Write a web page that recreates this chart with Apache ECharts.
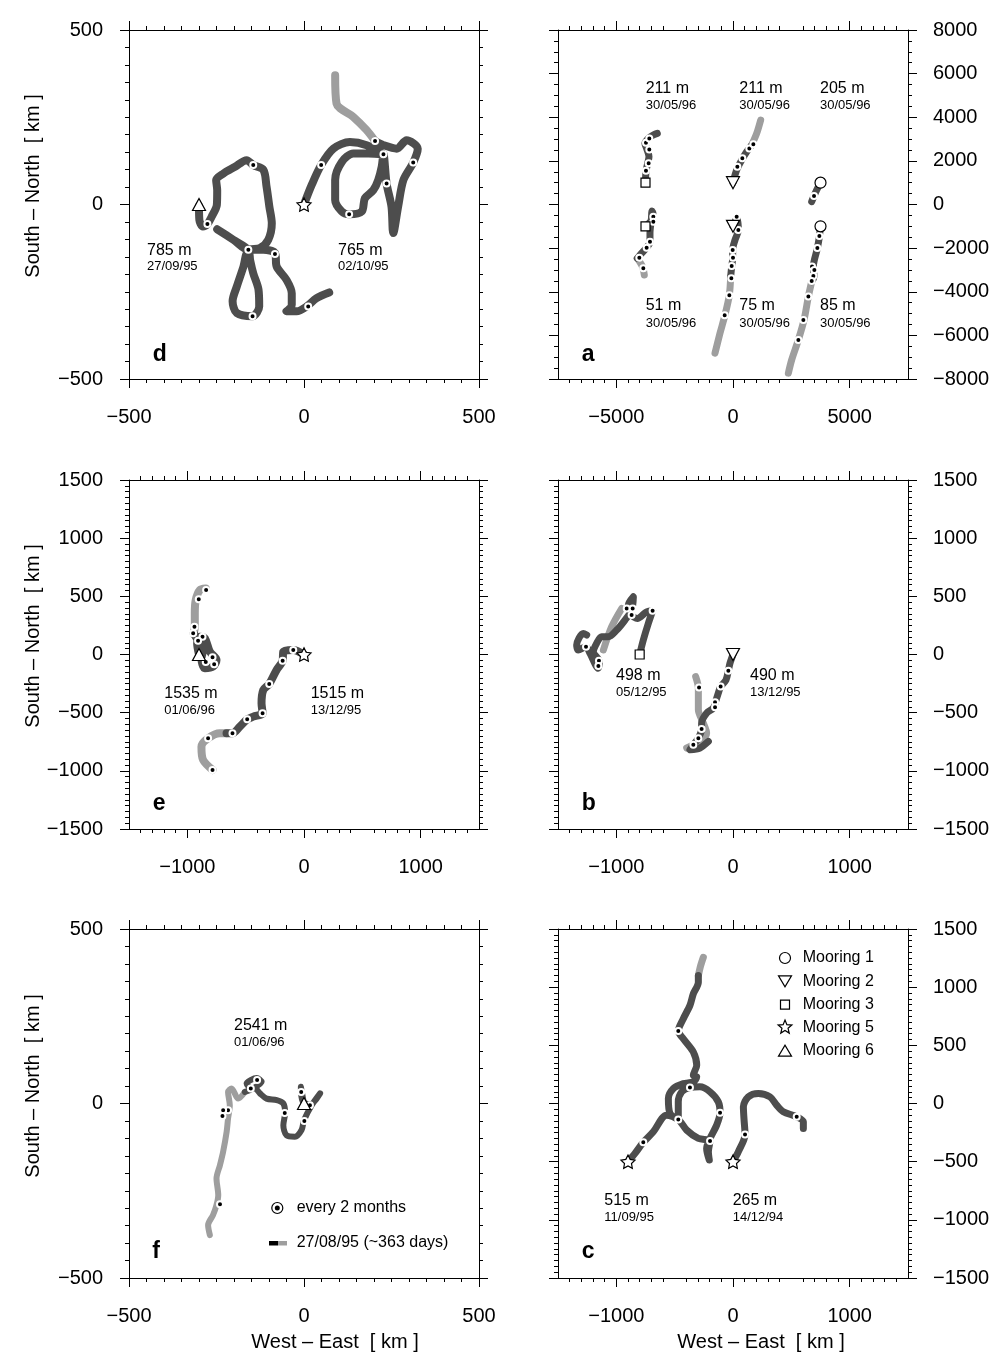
<!DOCTYPE html>
<html><head><meta charset="utf-8">
<script src="https://cdn.jsdelivr.net/npm/echarts@6/dist/echarts.min.js"></script>
<style>html,body{margin:0;padding:0;background:#fff}#c{width:996px;height:1355px}</style>
</head><body><div id="c"></div>
<script>
// ---------- DATA (km, West-East / South-North) ----------
// panel d
const d785Dark = [[-300,-5],[-299,-44],[-289,-63],[-276,-56],[-264,-35],[-249,-1],[-248,41],[-251,70],[-230,89],[-197,108],[-164,127],[-145,113],[-116,99],[-107,51],[-99,-6],[-92,-54],[-102,-101],[-126,-125],[-159,-130],[-173,-178],[-192,-235],[-204,-277],[-192,-311],[-147,-320],[-128,-292],[-130,-244],[-145,-197],[-154,-159],[-159,-130],[-202,-101],[-248,-71],[-202,-101],[-159,-130],[-116,-130],[-83,-139],[-78,-178],[-50,-216],[-35,-254],[-35,-287],[-50,-306],[-21,-306],[8,-292],[36,-268],[72,-252]];
const d785Dots = [[-276,-56],[-145,113],[-159,-130],[-147,-320],[-83,-142],[12,-292]];
const d765Dark = [[0,0],[22,56],[49,113],[84,160],[131,179],[179,170],[227,144],[184,146],[141,146],[108,122],[89,70],[89,13],[108,-20],[129,-28],[165,-20],[174,18],[198,41],[212,70],[222,108],[227,144],[236,60],[250,-6],[255,-82],[269,-6],[284,70],[312,120],[325,160],[293,184],[265,160],[227,170],[203,182]];
const d765Light = [[203,182],[179,213],[141,251],[93,289],[89,370]];
const d765Dots = [[49,113],[227,144],[129,-28],[236,60],[312,120],[203,182]];
// panel a
const a211sDark = [[-3750,1000],[-3730,1504],[-3658,1886],[-3601,2191],[-3701,2573],[-3773,2802],[-3630,3031],[-3415,3184],[-3244,3260]];
const a211sDots = [[-3730,1550],[-3615,1886],[-3587,2527],[-3730,2833],[-3587,3031]];
const a211tDark = [[0,1000],[157,1580],[372,2039],[586,2420],[800,2726]];
const a211tLight = [[800,2726],[1015,3260],[1186,3871]];
const a211tDots = [[186,1733],[400,2115],[700,2573],[872,2757]];
const a205Dark = [[3750,1000],[3587,664],[3472,390],[3372,130]];
const a205Dots = [[3472,390]];
const a51Dark = [[-3750,-1000],[-3487,-710],[-3430,-405],[-3470,-300],[-3500,-700],[-3558,-1321],[-3558,-1703],[-3701,-1978],[-3987,-2314],[-4101,-2466]];
const a51Light = [[-4101,-2466],[-3915,-2772],[-3844,-2970],[-3801,-3230]];
const a51Dots = [[-3415,-557],[-3415,-786],[-3558,-1703],[-3701,-1978],[-4015,-2436],[-3844,-2924]];
const a75Dark = [[0,-1000],[157,-634],[229,-1168],[86,-1626],[-14,-2085],[-14,-2466],[-57,-2848],[-100,-3306]];
const a75Light = [[-100,-3306],[-157,-4146],[-343,-5062],[-557,-5902],[-772,-6818]];
const a75Dots = [[157,-557],[229,-1168],[-14,-2085],[0,-2436],[-57,-2817],[-71,-3382],[-157,-4161],[-357,-5077]];
const a85Dark = [[3750,-1000],[3701,-1474],[3615,-2008],[3444,-2848],[3472,-3306],[3372,-3535]];
const a85Light = [[3372,-3535],[3230,-4222],[3044,-5291],[2801,-6207],[2515,-7123],[2372,-7734]];
const a85Dots = [[3701,-1443],[3615,-1993],[3387,-2848],[3487,-3001],[3444,-3276],[3372,-3505],[3230,-4222],[3015,-5291],[2801,-6207]];
// panel e
const e1535Dark = [[-900,0],[-916,96],[-893,153],[-850,139],[-807,24],[-750,-47],[-779,-104],[-850,-119],[-879,-33],[-865,39],[-908,119],[-945,182]];
const e1535Light = [[-945,182],[-936,239],[-936,354],[-928,468],[-893,554],[-842,568]];
const e1535Dots = [[-839,554],[-902,474],[-939,239],[-950,182],[-870,153],[-908,119],[-842,-64],[-784,-24],[-770,-84]];
const e1515Dark = [[0,0],[-92,39],[-178,24],[-183,-53],[-235,-133],[-298,-253],[-349,-305],[-364,-419],[-355,-505],[-435,-534],[-487,-557],[-550,-620],[-613,-677],[-664,-677]];
const e1515Light = [[-664,-677],[-721,-677],[-822,-720],[-879,-792],[-865,-906],[-784,-992]];
const e1515Dots = [[-92,39],[-183,-53],[-298,-253],[-355,-505],[-487,-557],[-613,-677],[-822,-720],[-784,-992]];
// panel b
const b498Dark = [[-800,0],[-769,124],[-726,267],[-689,376],[-740,367],[-820,310],[-869,339],[-897,424],[-854,496],[-869,381],[-926,296],[-997,210],[-1069,153],[-1126,153],[-1169,96],[-1197,24],[-1146,-61],[-1154,-119],[-1226,10],[-1260,67],[-1326,39],[-1340,81],[-1283,181],[-1254,167]];
const b498Light = [[-954,396],[-1040,239],[-1111,39]];
const b498Dots = [[-689,376],[-911,396],[-860,396],[-869,339],[-1260,67],[-1149,-53],[-1154,-99]];
const b490Dark = [[0,0],[-26,-76],[-40,-139],[-60,-219],[-106,-276],[-126,-333],[-154,-419],[-169,-461],[-226,-504],[-269,-590],[-269,-641],[-297,-719],[-340,-776],[-369,-819],[-283,-804],[-211,-747]];
const b490Light = [[-320,-190],[-297,-290],[-297,-476],[-254,-590],[-226,-676],[-283,-747],[-397,-804]];
const b490Dots = [[-40,-139],[-106,-276],[-154,-410],[-154,-453],[-269,-641],[-297,-719],[-340,-776],[-291,-284]];
// panel f
const f2541Dark = [[0,0],[-9,48],[-4,7],[17,-3],[46,29],[22,-5],[0,-48],[-7,-76],[-26,-95],[-50,-91],[-59,-62],[-54,-27],[-59,0],[-78,10],[-107,14],[-126,29],[-140,43],[-150,43],[-164,57],[-135,73],[-121,62],[-150,41],[-169,33]];
const f2541Light = [[-169,33],[-188,14],[-207,43],[-217,33],[-212,-5],[-217,-43],[-221,-81],[-231,-138],[-240,-176],[-250,-215],[-245,-262],[-250,-291],[-260,-320],[-274,-348],[-269,-377]];
const f2541Dots = [[-8,33],[17,-5],[1,-50],[-55,-27],[-152,43],[-134,67],[-217,-19],[-231,-19],[-233,-36],[-240,-289]];
// panel c
const c515Dark = [[-900,-500],[-840,-429],[-769,-334],[-683,-243],[-569,-100],[-469,-137],[-397,-229],[-297,-300],[-197,-323],[-211,-414],[-203,-486],[-226,-386],[-197,-300],[-140,-186],[-111,-80],[-126,14],[-197,100],[-283,143],[-369,137],[-440,100],[-469,14],[-469,-137],[-540,-86],[-554,43],[-511,129],[-426,171],[-340,186],[-311,229],[-340,243],[-311,329],[-340,443],[-426,557],[-469,623],[-426,729],[-369,843],[-340,943],[-297,1043],[-297,1100]];
const c515Light = [[-297,1100],[-277,1186],[-254,1257]];
const c515Dots = [[-769,-334],[-469,-137],[-197,-323],[-111,-80],[-369,137],[-469,623]];
const c265Dark = [[0,-500],[46,-414],[103,-266],[94,-129],[89,-29],[131,57],[217,86],[317,57],[374,-14],[431,-71],[546,-114],[603,-157],[603,-214]];
const c265Dots = [[103,-266],[546,-114]];
// mooring start positions per panel
const mD = {tri:[[-300,0]], star:[[0,0]]};
const mA = {sq:[[-3750,1000],[-3750,-1000]], dtri:[[0,1000],[0,-1000]], circ:[[3750,1000],[3750,-1000]]};
const mE = {tri:[[-900,0]], star:[[0,0]]};
const mB = {sq:[[-800,0]], dtri:[[0,0]]};
const mF = {tri:[[0,0]]};
const mC = {star:[[-900,-500],[0,-500]]};
// axis tick labels
const ticks1500x = [-1000,0,1000];
const ticks7500x = [-5000,0,5000];

// ---------- STYLE ----------
const DARK = '#4d4d4d', LIGHT = '#9e9e9e';
const FONT = '"Liberation Sans", Arial, Helvetica, sans-serif';
const STAR = 'path://M0,-10L2.94,-4.05L9.51,-3.09L4.76,1.55L5.88,8.09L0,5L-5.88,8.09L-4.76,1.55L-9.51,-3.09L-2.94,-4.05Z';
const GRIDPOS = [[129,30],[558,30],[129,480],[558,480],[129,929],[558,929]];
const fmt = v => v < 0 ? '\u2212' + Math.abs(v) : String(v);

const grids = GRIDPOS.map(p => ({left:p[0], top:p[1], width:350, height:349}));
const xAxes = [], yAxes = [];
function mkAxis(gi, pos, min, max, interval, minor, showLabel, custom, margin) {
  const ax = {type:'value', gridIndex:gi, position:pos, min, max, interval,
    axisLine:{onZero:false, lineStyle:{color:'#000', width:1}},
    axisTick:{show:true, inside:false, length:9, lineStyle:{color:'#000', width:1}},
    minorTick:{show:true, splitNumber:minor, length:4, lineStyle:{color:'#000', width:1}},
    axisLabel:{show:showLabel, fontSize:20, color:'#000', fontFamily:FONT, margin:margin, formatter:fmt},
    splitLine:{show:false}, minorSplitLine:{show:false}};
  if (custom) { ax.axisTick.customValues = custom; ax.axisLabel.customValues = custom; }
  return ax;
}
// panel specs: [xmin,xmax,xint,xminor,xcustom, ymin,ymax,yint,yminor, labelRight]
const specs = [
  [-500,500,500,10,null, -500,500,500,10,false],
  [-7500,7500,2500,5,ticks7500x, -8000,8000,2000,4,true],
  [-1500,1500,500,5,ticks1500x, -1500,1500,500,10,false],
  [-1500,1500,500,5,ticks1500x, -1500,1500,500,10,true],
  [-500,500,500,10,null, -500,500,500,10,false],
  [-1500,1500,500,5,ticks1500x, -1500,1500,500,10,true]
];
specs.forEach((s,gi) => {
  xAxes.push(mkAxis(gi,'bottom',s[0],s[1],s[2],s[3],true,s[4],28));
  xAxes.push(mkAxis(gi,'top',s[0],s[1],s[2],s[3],false,s[4],28));
  yAxes.push(mkAxis(gi,'left',s[5],s[6],s[7],s[8],!s[9],null,26));
  yAxes.push(mkAxis(gi,'right',s[5],s[6],s[7],s[8],s[9],null,25));
});

const series = [];
function track(gi, data, color, width) {
  series.push({type:'line', xAxisIndex:2*gi, yAxisIndex:2*gi, data, symbol:'none', showSymbol:false,
    smooth:0.3, silent:true, z: color === DARK ? 3 : 2,
    lineStyle:{color, width, cap:'round', join:'round'}});
}
function dots(gi, data) {
  series.push({type:'scatter', xAxisIndex:2*gi, yAxisIndex:2*gi, data, symbol:'circle', symbolSize:6,
    silent:true, z:4, itemStyle:{color:'#000', borderColor:'#fff', borderWidth:2, opacity:1}});
}
function moor(gi, data, symbol, size, rot) {
  series.push({type:'scatter', xAxisIndex:2*gi, yAxisIndex:2*gi, data, symbol, symbolSize:size,
    symbolRotate:rot||0, symbolKeepAspect:true, silent:true, z:5,
    itemStyle:{color:'#fff', borderColor:'#000', borderWidth:1.2, opacity:1}});
}
function moorings(gi, m) {
  if (m.tri) moor(gi, m.tri, 'triangle', [13,12]);
  if (m.dtri) moor(gi, m.dtri, 'triangle', [13,12], 180);
  if (m.sq) moor(gi, m.sq, 'rect', 9);
  if (m.circ) moor(gi, m.circ, 'circle', 11);
  if (m.star) moor(gi, m.star, STAR, 14);
}
// d
track(0, d785Dark, DARK, 8); dots(0, d785Dots);
track(0, d765Light, LIGHT, 8); track(0, d765Dark, DARK, 8); dots(0, d765Dots);
moorings(0, mD);
// a
track(1, a211sDark, DARK, 7); dots(1, a211sDots);
track(1, a211tLight, LIGHT, 7); track(1, a211tDark, DARK, 7); dots(1, a211tDots);
track(1, a205Dark, DARK, 7); dots(1, a205Dots);
track(1, a51Light, LIGHT, 7); track(1, a51Dark, DARK, 7); dots(1, a51Dots);
track(1, a75Light, LIGHT, 7); track(1, a75Dark, DARK, 7); dots(1, a75Dots);
track(1, a85Light, LIGHT, 7); track(1, a85Dark, DARK, 7); dots(1, a85Dots);
moorings(1, mA);
// e
track(2, e1535Light, LIGHT, 8); track(2, e1535Dark, DARK, 8); dots(2, e1535Dots);
track(2, e1515Light, LIGHT, 8); track(2, e1515Dark, DARK, 8); dots(2, e1515Dots);
moorings(2, mE);
// b
track(3, b498Light, LIGHT, 7); track(3, b498Dark, DARK, 7); dots(3, b498Dots);
track(3, b490Light, LIGHT, 7); track(3, b490Dark, DARK, 7); dots(3, b490Dots);
moorings(3, mB);
// f
track(4, f2541Light, LIGHT, 6); track(4, f2541Dark, DARK, 6); dots(4, f2541Dots);
moorings(4, mF);
// c
track(5, c515Light, LIGHT, 7); track(5, c515Dark, DARK, 7); dots(5, c515Dots);
track(5, c265Dark, DARK, 7); dots(5, c265Dots);
moorings(5, mC);

// ---------- TEXT / DECORATION ----------
const G = [];
function txt(text, x, base, size, bold) {
  G.push({type:'text', x:x, y:base - 0.36*size, silent:true, z:10,
    style:{text, font:(bold?'bold ':'') + size + 'px ' + FONT, fill:'#000',
      textAlign:'left', align:'left', textVerticalAlign:'middle', verticalAlign:'middle'}});
}
function label2(a, b, x, base1, base2) { txt(a, x, base1, 16); txt(b, x, base2, 13); }
label2('785 m','27/09/95',147,256,270.7); label2('765 m','02/10/95',338,256,270.7);
label2('211 m','30/05/96',645.7,94,110); label2('211 m','30/05/96',739.3,94,110); label2('205 m','30/05/96',820,94,110);
label2('51 m','30/05/96',645.7,311.7,328.3); label2('75 m','30/05/96',739.3,311.7,328.3); label2('85 m','30/05/96',820,311.7,328.3);
label2('1535 m','01/06/96',164.3,699.3,715); label2('1515 m','13/12/95',310.7,699.3,715);
label2('498 m','05/12/95',616,681.7,696.7); label2('490 m','13/12/95',750,681.7,696.7);
label2('2541 m','01/06/96',234,1031.3,1047);
label2('515 m','11/09/95',604.3,1206.3,1222); label2('265 m','14/12/94',732.7,1206.3,1222);
txt('d',152.7,363.3,23,true); txt('a',581.7,362.7,23,true);
txt('e',152.7,811.7,23,true); txt('b',581.7,811.7,23,true);
txt('f',152.3,1259.7,23,true); txt('c',581.7,1259.7,23,true);
[186,636,1086].forEach(cy => G.push({type:'text', x:33, y:cy, rotation:Math.PI/2, silent:true,
  style:{text:'South \u2013 North  [ km ]', font:'20px ' + FONT, fill:'#000', textAlign:'center', align:'center', textVerticalAlign:'middle', verticalAlign:'middle'}}));
[335,761].forEach(cx => G.push({type:'text', x:cx, y:1342, silent:true,
  style:{text:'West \u2013 East  [ km ]', font:'20px ' + FONT, fill:'#000', textAlign:'center', align:'center', textVerticalAlign:'middle', verticalAlign:'middle'}}));
// legend c
const SYM = {fill:'#fff', stroke:'#000', lineWidth:1.2};
const lx = 785, ly = [958,981.3,1004.7,1027.3,1050.7];
G.push({type:'circle', shape:{cx:lx, cy:ly[0], r:5.5}, style:SYM, silent:true});
G.push({type:'polygon', shape:{points:[[lx-6.5,ly[1]-5.5],[lx+6.5,ly[1]-5.5],[lx,ly[1]+5.5]]}, style:SYM, silent:true});
G.push({type:'rect', shape:{x:lx-4.5, y:ly[2]-4.5, width:9, height:9}, style:SYM, silent:true});
const starPts = []; for (let i=0;i<10;i++){ const r = i%2?3.2:7.2, a = -Math.PI/2 + i*Math.PI/5; starPts.push([lx + r*Math.cos(a), ly[3] + r*Math.sin(a)]); }
G.push({type:'polygon', shape:{points:starPts}, style:SYM, silent:true});
G.push({type:'polygon', shape:{points:[[lx-6.5,ly[4]+5.5],[lx+6.5,ly[4]+5.5],[lx,ly[4]-5.5]]}, style:SYM, silent:true});
['Mooring 1','Mooring 2','Mooring 3','Mooring 5','Mooring 6'].forEach((t,i) => txt(t, 802.7, ly[i] + 0.36*16, 16));
// legend f
G.push({type:'circle', shape:{cx:277.3, cy:1208, r:5.5}, style:{fill:'#fff', stroke:'#000', lineWidth:1.2}, silent:true});
G.push({type:'circle', shape:{cx:277.3, cy:1208, r:2.5}, style:{fill:'#000'}, silent:true});
txt('every 2 months', 296.7, 1208 + 0.36*16, 16);
G.push({type:'rect', shape:{x:269, y:1241, width:9, height:4.5}, style:{fill:'#000'}, silent:true});
G.push({type:'rect', shape:{x:278, y:1241, width:9, height:4.5}, style:{fill:LIGHT}, silent:true});
txt('27/08/95 (~363 days)', 296.7, 1243 + 0.36*16, 16);

const chart = echarts.init(document.getElementById('c'), null, {renderer:'canvas'});
chart.setOption({animation:false, backgroundColor:'#fff', grid:grids, xAxis:xAxes, yAxis:yAxes, series, graphic:{elements:G}});
</script></body></html>
